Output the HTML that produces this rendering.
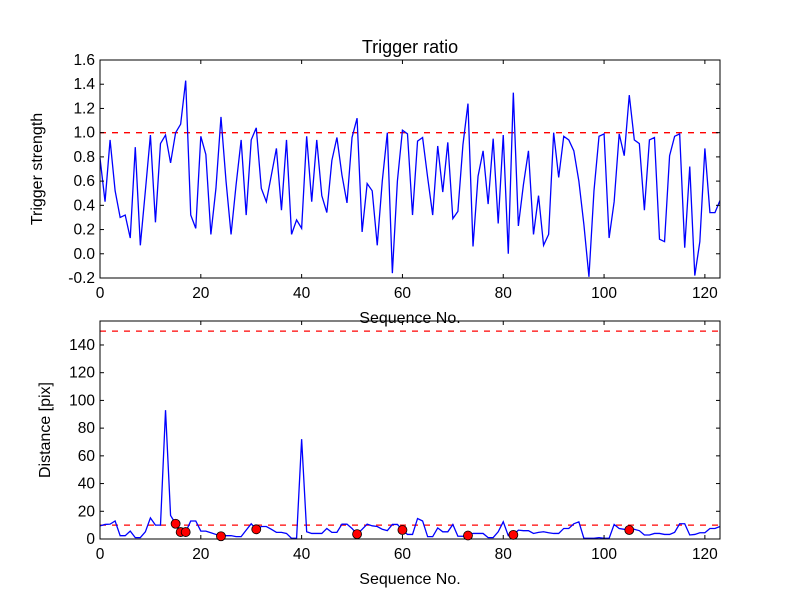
<!DOCTYPE html>
<html><head><meta charset="utf-8"><style>
body{margin:0;background:#fff}
svg text{font-family:"Liberation Sans","DejaVu Sans",sans-serif;fill:#000}
</style></head><body>
<svg id="chart" width="800" height="600" viewBox="0 0 800 600" xmlns="http://www.w3.org/2000/svg">
<rect width="800" height="600" fill="#fff"/>
</svg>
<script>
const strength=[0.79,0.43,0.94,0.52,0.30,0.32,0.13,0.88,0.07,0.52,0.98,0.26,0.91,0.98,0.75,1.0,1.07,1.43,0.32,0.21,0.97,0.82,0.16,0.54,1.13,0.6,0.16,0.57,0.94,0.32,0.94,1.04,0.54,0.43,0.65,0.87,0.36,0.94,0.16,0.28,0.21,0.97,0.43,0.94,0.48,0.34,0.77,0.96,0.65,0.42,0.96,1.12,0.18,0.58,0.52,0.07,0.6,1.0,-0.16,0.6,1.02,0.99,0.32,0.93,0.96,0.63,0.32,0.89,0.51,0.92,0.29,0.35,0.9,1.24,0.06,0.64,0.85,0.41,0.95,0.25,0.98,0.0,1.33,0.23,0.57,0.85,0.16,0.48,0.07,0.16,1.0,0.63,0.97,0.94,0.85,0.6,0.24,-0.19,0.52,0.97,0.99,0.13,0.43,0.99,0.81,1.31,0.94,0.91,0.36,0.94,0.96,0.12,0.10,0.81,0.97,0.99,0.05,0.72,-0.18,0.1,0.87,0.34,0.34,0.44];
const distance=[9.5,10.5,10.7,13,2.4,2.4,5.7,1,1,5.2,15.2,10,10,93,17,11,5,5,13,13,5.7,5.7,4.5,3.3,2,2.4,2.4,1.7,1.7,6.4,11,7,9,9,7,4.8,4.8,4,0.5,0.5,72,5.2,4,4,4,7.6,4.8,4.8,10.7,10.7,7.6,3.5,7,10.7,9.5,9,7,6,10.5,10.5,6.5,3.3,3.3,14.8,13,1.7,1.7,8,5.2,5.2,10.5,2,2,2.5,4,4,4,1,1,5.2,12.4,2.4,3,6.4,6,6,4,4.8,5.2,4.5,4,4,7.6,7.6,11,12.4,0.5,0.5,0.5,1,0.5,0.5,10.5,7.6,7,6.5,7,6,2.9,2.9,4,4,3.3,3.3,4.8,11,11,2.9,3.3,4.5,4.5,7.6,7.6,9];
const markerIdx=[15,16,17,24,31,51,60,73,82,105];
const topTicks=[-0.2,0.0,0.2,0.4,0.6,0.8,1.0,1.2,1.4,1.6];
const botTicks=[0,20,40,60,80,100,120,140];
const xTicks=[0,20,40,60,80,100,120];
const topThreshold=1.0, botThreshold=150, botMarkLine=10;

const NS='http://www.w3.org/2000/svg';
const svg=document.getElementById('chart');
function mk(tag,attrs,parent){const e=document.createElementNS(NS,tag);for(const k in attrs)e.setAttribute(k,attrs[k]);(parent||svg).appendChild(e);return e;}
const X0=100,X1=720;
const xs=v=>X0+(v-0)/(123-0)*(X1-X0);
function panel(name,top,bottom,ymin,ymax,ticks,fmt,series,thr,xlabel,ylabel,ylx){
  const ys=v=>bottom-(v-ymin)/(ymax-ymin)*(bottom-top);
  const g=mk('g',{});
  
  
  thr.forEach(t=>{const l=mk('line',{x1:X0,x2:X1,y1:ys(t),y2:ys(t),stroke:'#f00','stroke-width':1.3,'stroke-dasharray':'6,6'},g);
    
    });
  const d=series.map((v,i)=>(i?'L':'M')+xs(i).toFixed(2)+','+ys(v).toFixed(2)).join('');
  const p=mk('path',{d:d,fill:'none',stroke:'#0000ff','stroke-width':1.3},g);
  
  
  mk('rect',{x:X0,y:top,width:X1-X0,height:bottom-top,fill:'none',stroke:'#000','stroke-width':1},g);
  ticks.forEach(t=>{const y=ys(t);
    mk('line',{x1:X0,x2:X0+4,y1:y,y2:y,stroke:'#000'},g);
    mk('line',{x1:X1,x2:X1-4,y1:y,y2:y,stroke:'#000'},g);
    const tx=mk('text',{x:X0-5,y:y+5,'text-anchor':'end','font-size':15.5},g);tx.textContent=fmt(t);
    
    });
  xTicks.forEach(t=>{const x=xs(t);
    mk('line',{x1:x,x2:x,y1:bottom,y2:bottom-4,stroke:'#000'},g);
    mk('line',{x1:x,x2:x,y1:top,y2:top+4,stroke:'#000'},g);
    const tx=mk('text',{x:x,y:bottom+20,'text-anchor':'middle','font-size':15.5},g);tx.textContent=t;
    
    });
  const xl=mk('text',{x:410,y:bottom+45,'text-anchor':'middle','font-size':16},g);xl.textContent=xlabel;
  
  
  const cy=(top+bottom)/2;
  const yl=mk('text',{x:ylx,y:cy,'text-anchor':'middle','font-size':16,transform:'rotate(-90 '+ylx+' '+cy+')'},g);yl.textContent=ylabel;
  
  
  return ys;
}
const ysTop=panel('trigger-strength-panel',60,278,-0.2,1.6,topTicks,t=>t.toFixed(1),strength,[topThreshold],'Sequence No.','Trigger strength',42);
const ysBot=panel('distance-panel',321,539,0,157.3,botTicks,t=>String(t),distance,[botThreshold,botMarkLine],'Sequence No.','Distance [pix]',50);
markerIdx.forEach(i=>{const c=mk('circle',{cx:xs(i),cy:ysBot(distance[i]),r:4.5,fill:'#f00',stroke:'#000','stroke-width':0.8});
  
  });
const title=mk('text',{x:410,y:53,'text-anchor':'middle','font-size':18});title.textContent='Trigger ratio';


</script>
</body></html>
